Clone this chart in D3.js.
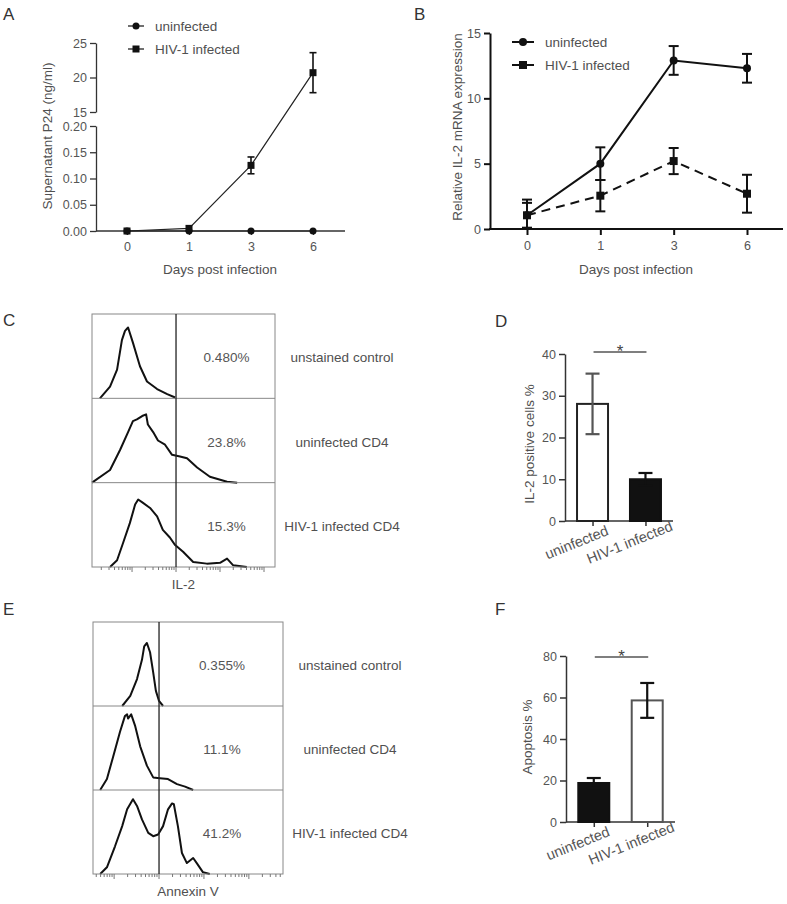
<!DOCTYPE html>
<html><head><meta charset="utf-8">
<script src="https://cdn.jsdelivr.net/npm/d3@7"></script>
<style>
html,body{margin:0;padding:0;background:#fff;}
svg{display:block;font-family:"Liberation Sans",Arial,Helvetica,sans-serif;}
</style></head>
<body><svg id="fig" width="787" height="904"></svg>
<script>
// ---------- Data ----------
const days = ["0", "1", "3", "6"];
const p24Uninfected = [0, 0, 0, 0];
const p24Infected = [0, 0.005, 0.125, 20.7];
const p24InfectedErr = [0, 0, 0.016, 2.9];
const p24LowTicks = [0, 0.05, 0.10, 0.15, 0.20];
const p24HighTicks = [15, 20, 25];

const il2Uninfected = [1.05, 5.0, 12.9, 12.3];
const il2UninfectedErr = [1.2, 1.25, 1.1, 1.1];
const il2Infected = [1.05, 2.55, 5.2, 2.7];
const il2InfectedErr = [0.95, 1.2, 1.0, 1.45];
const il2Ticks = [0, 5, 10, 15];

const seriesNames = ["uninfected", "HIV-1 infected"];
const sampleLabels = ["unstained control", "uninfected CD4", "HIV-1 infected CD4"];

// Flow histograms (x in log decades relative to gate, y in % of row height)
const il2Percents = ["0.480%", "23.8%", "15.3%"];
const il2UnstainedX = [-1.73,-1.5,-1.34,-1.23,-1.16,-1.09,-0.98,-0.82,-0.66,-0.43,-0.2,-0.02];
const il2UnstainedY = [0,14,34,69,80,84,66,38,20,11,5,1];
const il2UninfX = [-1.91,-1.5,-1.27,-1.09,-0.98,-0.89,-0.77,-0.68,-0.64,-0.52,-0.41,-0.25,-0.09,0.09,0.25,0.48,0.77,1.16,1.39];
const il2UninfY = [0,15,39,60,73,75,79,81,69,60,50,45,33,31,29,18,7,1,0];
const il2HivX = [-1.5,-1.34,-1.2,-1.05,-0.93,-0.86,-0.75,-0.59,-0.43,-0.3,-0.14,-0.02,0.16,0.39,0.7,1.0,1.16,1.3,1.61];
const il2HivY = [0,8,29,52,74,80,76,70,60,44,35,26,18,6,4,5,10,2,0];

const annexPercents = ["0.355%", "11.1%", "41.2%"];
const annexUnstainedX = [-0.82,-0.64,-0.49,-0.38,-0.33,-0.27,-0.2,-0.13,-0.07,0,0.09];
const annexUnstainedY = [0,12,32,55,71,75,64,40,18,6,0];
const annexUninfX = [-1.31,-1.16,-1.02,-0.87,-0.76,-0.71,-0.69,-0.62,-0.53,-0.42,-0.27,-0.13,0.02,0.2,0.4,0.58,0.76];
const annexUninfY = [0,13,40,69,88,90,85,90,76,52,29,15,14,13,7,4,0];
const annexHivX = [-1.31,-1.16,-0.98,-0.82,-0.71,-0.58,-0.49,-0.38,-0.24,-0.13,-0.02,0.09,0.2,0.29,0.33,0.42,0.51,0.62,0.76,0.84,0.98,1.13];
const annexHivY = [0,8,33,57,77,89,81,65,49,45,47,57,77,84,83,57,25,13,19,13,2,0];

const groups = ["uninfected", "HIV-1 infected"];
const il2Positive = [28.05, 10.0];
const il2PositiveErr = [7.25, 1.5];
const il2PosTicks = [0, 10, 20, 30, 40];
const apoptosis = [18.8, 58.6];
const apoptosisErr = [2.4, 8.4];
const apoptosisTicks = [0, 20, 40, 60, 80];

// ---------- Helpers ----------
const svg = d3.select("#fig");
const TXT = "#555", LBL = "#505050", AX = "#333";
const FONT_T = 12.5, FONT_L = 13.5;

function letter(s, x, y) {
  svg.append("text").attr("x", x).attr("y", y).attr("font-size", 17).attr("fill", "#333").text(s);
}
function styleAxis(g, color, width) {
  g.selectAll("path.domain").attr("stroke", color).attr("stroke-width", width);
  g.selectAll(".tick line").attr("stroke", color).attr("stroke-width", width);
  g.selectAll(".tick text").attr("fill", TXT).attr("font-size", FONT_T)
    .attr("font-family", "Liberation Sans, Arial, sans-serif");
}
function marker(g, type, x, y, size) {
  if (type === "circle") g.append("circle").attr("cx", x).attr("cy", y).attr("r", size / 2).attr("fill", "#111");
  else g.append("rect").attr("x", x - size / 2).attr("y", y - size / 2).attr("width", size).attr("height", size).attr("fill", "#111");
}
function errBar(g, x, y1, y2, cap, color, w) {
  g.append("line").attr("x1", x).attr("x2", x).attr("y1", y1).attr("y2", y2).attr("stroke", color).attr("stroke-width", w);
  [y1, y2].forEach(y => g.append("line").attr("x1", x - cap / 2).attr("x2", x + cap / 2).attr("y1", y).attr("y2", y)
    .attr("stroke", color).attr("stroke-width", w));
}

// ---------- Panel A ----------
letter("A", 3, 20);
{
  const g = svg.append("g");
  const x = d3.scalePoint().domain(days).range([127, 313]);
  const yLow = d3.scaleLinear().domain([0, 0.2]).range([231, 126]);
  const yHigh = d3.scaleLinear().domain([15, 25]).range([112, 43]);
  const y = v => v > 1 ? yHigh(v) : yLow(v);
  const axX = 96;
  const a1 = g.append("g").attr("transform", `translate(${axX},0)`)
    .call(d3.axisLeft(yLow).tickValues(p24LowTicks).tickFormat(d3.format(".2f")).tickSize(6).tickSizeOuter(0));
  const a2 = g.append("g").attr("transform", `translate(${axX},0)`)
    .call(d3.axisLeft(yHigh).tickValues(p24HighTicks).tickSize(6).tickSizeOuter(0));
  [a1, a2].forEach(a => styleAxis(a, AX, 1.3));
  const xa = g.append("g").attr("transform", `translate(0,231)`)
    .call(d3.axisBottom(x).tickSize(4).tickPadding(7));
  xa.select("path.domain").remove();
  styleAxis(xa, AX, 1.3);
  g.append("line").attr("x1", axX).attr("x2", 345).attr("y1", 231).attr("y2", 231).attr("stroke", AX).attr("stroke-width", 1.3);
  const line = d3.line().x((d, i) => x(days[i])).y(d => y(d));
  g.append("path").attr("d", line(p24Uninfected)).attr("fill", "none").attr("stroke", "#222").attr("stroke-width", 1.2);
  g.append("path").attr("d", line(p24Infected)).attr("fill", "none").attr("stroke", "#222").attr("stroke-width", 1.2);
  p24Infected.forEach((v, i) => {
    if (p24InfectedErr[i] > 0) errBar(g, x(days[i]), y(v + p24InfectedErr[i]), y(v - p24InfectedErr[i]), 7, "#111", 1.6);
  });
  p24Uninfected.forEach((v, i) => marker(g, "circle", x(days[i]), y(v), 7));
  p24Infected.forEach((v, i) => marker(g, "square", x(days[i]), y(v), 7));
  // legend
  seriesNames.forEach((s, i) => {
    const ly = 26 + i * 23;
    g.append("line").attr("x1", 128).attr("x2", 144).attr("y1", ly).attr("y2", ly).attr("stroke", "#222").attr("stroke-width", 1.3);
    marker(g, i === 0 ? "circle" : "square", 136, ly, 7);
    g.append("text").attr("x", 155).attr("y", ly + 5).attr("font-size", FONT_L).attr("fill", LBL).text(s);
  });
  g.append("text").attr("x", 220).attr("y", 274).attr("text-anchor", "middle").attr("font-size", FONT_L).attr("fill", LBL).text("Days post infection");
  g.append("text").attr("transform", "translate(52,136) rotate(-90)").attr("text-anchor", "middle").attr("font-size", FONT_L).attr("fill", LBL).text("Supernatant P24 (ng/ml)");
}

// ---------- Panel B ----------
letter("B", 414, 20);
{
  const g = svg.append("g");
  const x = d3.scalePoint().domain(days).range([527, 747]);
  const y = d3.scaleLinear().domain([0, 15]).range([229, 33]);
  const ay = g.append("g").attr("transform", "translate(490,0)")
    .call(d3.axisLeft(y).tickValues(il2Ticks).tickSize(6).tickSizeOuter(0));
  styleAxis(ay, "#111", 2);
  const ax = g.append("g").attr("transform", "translate(0,229)").call(d3.axisBottom(x).tickSize(6).tickPadding(6));
  ax.select("path.domain").remove();
  styleAxis(ax, "#111", 2);
  g.append("line").attr("x1", 489).attr("x2", 783).attr("y1", 229).attr("y2", 229).attr("stroke", "#111").attr("stroke-width", 2);
  const line = d3.line().x((d, i) => x(days[i])).y(d => y(d));
  g.append("path").attr("d", line(il2Uninfected)).attr("fill", "none").attr("stroke", "#111").attr("stroke-width", 2);
  g.append("path").attr("d", line(il2Infected)).attr("fill", "none").attr("stroke", "#111").attr("stroke-width", 2).attr("stroke-dasharray", "9,6");
  il2Uninfected.forEach((v, i) => errBar(g, x(days[i]), y(v + il2UninfectedErr[i]), y(Math.max(0, v - il2UninfectedErr[i])), 10, "#111", 2));
  il2Infected.forEach((v, i) => errBar(g, x(days[i]), y(v + il2InfectedErr[i]), y(Math.max(0, v - il2InfectedErr[i])), 10, "#111", 2));
  il2Uninfected.forEach((v, i) => marker(g, "circle", x(days[i]), y(v), 8));
  il2Infected.forEach((v, i) => marker(g, "square", x(days[i]), y(v), 8));
  seriesNames.forEach((s, i) => {
    const ly = 42 + i * 23;
    g.append("line").attr("x1", 512).attr("x2", 534).attr("y1", ly).attr("y2", ly).attr("stroke", "#111").attr("stroke-width", 2);
    marker(g, i === 0 ? "circle" : "square", 523, ly, 8);
    g.append("text").attr("x", 545).attr("y", ly + 5).attr("font-size", FONT_L).attr("fill", LBL).text(s);
  });
  g.append("text").attr("x", 636).attr("y", 274).attr("text-anchor", "middle").attr("font-size", FONT_L).attr("fill", LBL).text("Days post infection");
  g.append("text").attr("transform", "translate(462,127) rotate(-90)").attr("text-anchor", "middle").attr("font-size", FONT_L).attr("fill", LBL).text("Relative IL-2 mRNA expression");
}

// ---------- Histogram panels ----------
function histPanel(cfg) {
  const g = svg.append("g");
  const x = d3.scaleLinear().domain(cfg.vdom).range([cfg.left, cfg.right]);
  const rows = d3.scaleBand().domain(sampleLabels).range([cfg.top, cfg.bottom]);
  cfg.curves.forEach((c, r) => {
    const y0 = rows(sampleLabels[r]) + rows.bandwidth();
    const y = d3.scaleLinear().domain([0, 100]).range([y0, y0 - rows.bandwidth()]);
    const pts = c[0].map((v, i) => [x(v), y(c[1][i])]);
    g.append("path").attr("d", d3.line()(pts)).attr("fill", "none").attr("stroke", "#111").attr("stroke-width", 2).attr("stroke-linejoin", "round");
  });
  g.append("rect").attr("x", cfg.left).attr("y", cfg.top).attr("width", cfg.right - cfg.left).attr("height", cfg.bottom - cfg.top)
    .attr("fill", "none").attr("stroke", "#888").attr("stroke-width", 1);
  sampleLabels.slice(1).forEach(s => g.append("line").attr("x1", cfg.left).attr("x2", cfg.right)
    .attr("y1", rows(s)).attr("y2", rows(s)).attr("stroke", "#888").attr("stroke-width", 1));
  g.append("line").attr("x1", x(0)).attr("x2", x(0)).attr("y1", cfg.top).attr("y2", cfg.bottom).attr("stroke", "#222").attr("stroke-width", 1.3);
  const ticks = [];
  for (let d = Math.floor(cfg.vdom[0]) - 1; d <= Math.ceil(cfg.vdom[1]); d++)
    for (let k = 1; k <= 9; k++) { const v = d + Math.log10(k); if (v >= cfg.vdom[0] && v <= cfg.vdom[1]) ticks.push({ v, major: k === 1 }); }
  g.selectAll(".lt").data(ticks).enter().append("line")
    .attr("x1", d => x(d.v)).attr("x2", d => x(d.v)).attr("y1", cfg.bottom).attr("y2", d => cfg.bottom + (d.major ? 5 : 3))
    .attr("stroke", "#777").attr("stroke-width", 1);
  sampleLabels.forEach((s, r) => {
    const cy = rows(s) + rows.bandwidth() / 2 + 6;
    g.append("text").attr("x", (x(0) + cfg.right) / 2 + 1).attr("y", cy).attr("text-anchor", "middle")
      .attr("font-size", FONT_L).attr("fill", TXT).text(cfg.percents[r]);
    g.append("text").attr("x", cfg.right + 67).attr("y", cy).attr("text-anchor", "middle")
      .attr("font-size", FONT_L).attr("fill", LBL).text(s);
  });
  g.append("text").attr("x", (cfg.left + cfg.right) / 2).attr("y", cfg.bottom + 22).attr("text-anchor", "middle")
    .attr("font-size", FONT_L).attr("fill", LBL).text(cfg.title);
}

letter("C", 3, 326);
histPanel({ left: 92, right: 275, top: 314, bottom: 567, vdom: [-1.91, 2.25], title: "IL-2", percents: il2Percents,
  curves: [[il2UnstainedX, il2UnstainedY], [il2UninfX, il2UninfY], [il2HivX, il2HivY]] });
letter("E", 3, 615);
histPanel({ left: 93, right: 283, top: 622, bottom: 874, vdom: [-1.47, 2.76], title: "Annexin V", percents: annexPercents,
  curves: [[annexUnstainedX, annexUnstainedY], [annexUninfX, annexUninfY], [annexHivX, annexHivY]] });

// ---------- Bar panels ----------
function barPanel(cfg) {
  const g = svg.append("g");
  const x = d3.scalePoint().domain(groups).range([cfg.axisX, cfg.axisEnd]).padding(0.52);
  const y = d3.scaleLinear().domain([0, cfg.ticks[cfg.ticks.length - 1]]).range([cfg.y0, cfg.yTop]);
  const ay = g.append("g").attr("transform", `translate(${cfg.axisX},0)`)
    .call(d3.axisLeft(y).tickValues(cfg.ticks).tickSize(6).tickSizeOuter(0));
  styleAxis(ay, AX, 1.5);
  const ax = g.append("g").attr("transform", `translate(0,${cfg.y0})`).call(d3.axisBottom(x).tickSize(5).tickFormat(""));
  ax.select("path.domain").remove();
  styleAxis(ax, AX, 1.5);
  g.append("line").attr("x1", cfg.axisX).attr("x2", cfg.axisEnd).attr("y1", cfg.y0).attr("y2", cfg.y0).attr("stroke", AX).attr("stroke-width", 1.5);
  const bw = 31;
  cfg.values.forEach((v, i) => {
    const cx = x(groups[i]);
    g.append("rect").attr("x", cx - bw / 2).attr("y", y(v)).attr("width", bw).attr("height", cfg.y0 - y(v))
      .attr("fill", cfg.fills[i]).attr("stroke", cfg.strokes[i]).attr("stroke-width", 2);
    errBar(g, cx, y(v + cfg.errs[i]), y(v - cfg.errs[i]), 14, cfg.errColors[i], 2.2);
  });
  groups.forEach(gr => {
    g.append("text").attr("transform", `translate(${x(gr) - 14},${cfg.y0 + 26}) rotate(-22)`).attr("text-anchor", "middle")
      .attr("font-size", 14.5).attr("fill", TXT).text(gr);
  });
  const sy = y(cfg.sigLevel);
  g.append("line").attr("x1", x(groups[0]) + 1).attr("x2", x(groups[1]) + 1).attr("y1", sy).attr("y2", sy).attr("stroke", "#555").attr("stroke-width", 1.5);
  g.append("text").attr("x", (x(groups[0]) + x(groups[1])) / 2 + 1).attr("y", sy + 5).attr("text-anchor", "middle")
    .attr("font-size", 17).attr("fill", "#444").text("*");
  g.append("text").attr("transform", `translate(${cfg.labelX},${cfg.labelY}) rotate(-90)`).attr("text-anchor", "middle")
    .attr("font-size", FONT_L).attr("fill", LBL).text(cfg.label);
}

letter("D", 495, 327);
barPanel({ axisX: 565, axisEnd: 673, y0: 521, yTop: 354, ticks: il2PosTicks, values: il2Positive, errs: il2PositiveErr,
  fills: ["#fff", "#111"], strokes: ["#222", "#111"], errColors: ["#555", "#111"], sigLevel: 40.5,
  label: "IL-2 positive cells %", labelX: 534, labelY: 444 });
letter("F", 495, 615);
barPanel({ axisX: 566, axisEnd: 675, y0: 822, yTop: 656, ticks: apoptosisTicks, values: apoptosis, errs: apoptosisErr,
  fills: ["#111", "#fff"], strokes: ["#111", "#555"], errColors: ["#111", "#111"], sigLevel: 79.5,
  label: "Apoptosis %", labelX: 532, labelY: 737 });
</script></body></html>
